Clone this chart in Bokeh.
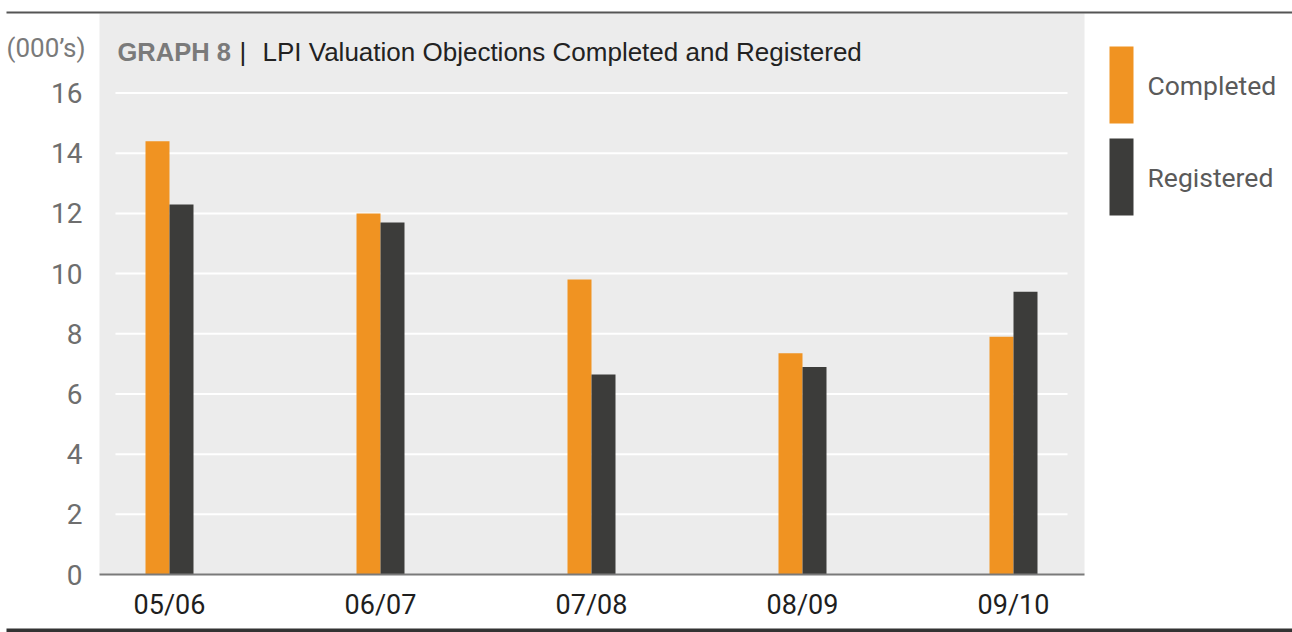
from bokeh.plotting import figure
from bokeh.models import Range1d, Label
from bokeh.core.properties import value
from bokeh.embed import file_html
from bokeh.resources import INLINE

# ---- data ----
years = ["05/06", "06/07", "07/08", "08/09", "09/10"]
series_names = ["Completed", "Registered"]
series_colors = ["#f09322", "#3c3c3a"]
completed = [14.4, 12.0, 9.8, 7.35, 7.9]
registered = [12.3, 11.7, 6.65, 6.9, 9.4]
y_ticks = [0, 2, 4, 6, 8, 10, 12, 14, 16]
y_tick_labels = [str(v) for v in y_ticks]
grid_vals = [v for v in y_ticks if v > 0]

# ---- layout geometry (canvas px, origin top-left) ----
W, H = 1292, 632
PANEL_L, PANEL_R, PANEL_T = 99, 1084, 13
BASE_PY = 574.0      # canvas y of value 0
CAT_PX = 211.0       # px between category centres
X0_PX = 169.0        # canvas x of first category centre
Y_PX = 30.09         # px per unit

def dx(px):
    return (px - X0_PX) / CAT_PX

def dy(py):
    return (BASE_PY - py) / Y_PX

bw = 24.0 / CAT_PX

TICKF = "Roboto"
SANS = "Liberation Sans"

p = figure(width=W, height=H, x_range=Range1d(dx(0), dx(W)), y_range=Range1d(dy(H), dy(0)),
           output_backend="svg", toolbar_location=None,
           x_axis_location=None, y_axis_location=None,
           min_border=0, min_border_left=0, min_border_right=0,
           min_border_top=0, min_border_bottom=0)
p.background_fill_color = "white"
p.border_fill_color = "white"
p.outline_line_color = None
p.grid.visible = False

# grey panel
p.quad(left=[dx(PANEL_L)], right=[dx(PANEL_R)], bottom=[0], top=[dy(PANEL_T)],
       fill_color="#ececec", line_color=None)

# top and bottom rules
p.quad(left=[dx(6)], right=[dx(W + 2)], bottom=[dy(13)], top=[dy(11)],
       fill_color="#555555", line_color=None)
p.quad(left=[dx(6)], right=[dx(W + 2)], bottom=[dy(H + 2)], top=[dy(628)],
       fill_color="#333333", line_color=None)

# gridlines
n = len(grid_vals)
p.segment(x0=[dx(115)] * n, x1=[dx(1067)] * n, y0=grid_vals, y1=grid_vals,
          line_color="white", line_width=2)

xs = list(range(len(years)))
r1 = p.vbar(x=[i - bw / 2 for i in xs], top=completed, width=bw, bottom=0,
            fill_color=series_colors[0], line_color=None)
r2 = p.vbar(x=[i + bw / 2 for i in xs], top=registered, width=bw, bottom=0,
            fill_color=series_colors[1], line_color=None)

# baseline (x axis line)
p.segment(x0=[dx(PANEL_L)], x1=[dx(PANEL_R)], y0=[0], y1=[0],
          line_color="#7a7a7a", line_width=2)

# y tick labels
p.text(x=[dx(82)] * len(y_ticks), y=y_ticks, text=y_tick_labels,
       text_align="right", text_baseline="middle",
       text_font=value(TICKF), text_font_size="28px", text_color="#6e6e6e")

# x tick labels
p.text(x=xs, y=[dy(604)] * len(xs), text=years,
       text_align="center", text_baseline="middle",
       text_font=value(TICKF), text_font_size="27px", text_color="#1e1e1e")

# legend (swatches + names)
leg_tops = [46, 138]
leg_h = 77
p.quad(left=[dx(1109)] * 2, right=[dx(1133)] * 2,
       top=[dy(t) for t in leg_tops], bottom=[dy(t + leg_h) for t in leg_tops],
       fill_color=series_colors, line_color=None)
p.text(x=[dx(1147)] * 2, y=[dy(t + leg_h / 2) for t in leg_tops], text=series_names,
       text_align="left", text_baseline="middle",
       text_font=value(TICKF), text_font_size="26.5px", text_color="#5a5a5a")

# titles
p.add_layout(Label(x=dx(85), y=dy(47), text="(000’s)", text_align="right",
                   text_baseline="middle", text_font=TICKF, text_font_size="26px",
                   text_color="#7a7a7a"))
p.add_layout(Label(x=dx(117), y=dy(51), text="GRAPH 8", text_align="left",
                   text_baseline="middle", text_font=SANS, text_font_size="25.5px",
                   text_font_style="bold", text_color="#7a7a7a"))
p.add_layout(Label(x=dx(239), y=dy(51), text="|", text_align="left",
                   text_baseline="middle", text_font=SANS, text_font_size="26px",
                   text_color="#222222"))
p.add_layout(Label(x=dx(262), y=dy(51), text="LPI Valuation Objections Completed and Registered",
                   text_align="left", text_baseline="middle", text_font=SANS,
                   text_font_size="26px", text_color="#222222"))

open("out.html", "w").write(file_html(p, INLINE))
